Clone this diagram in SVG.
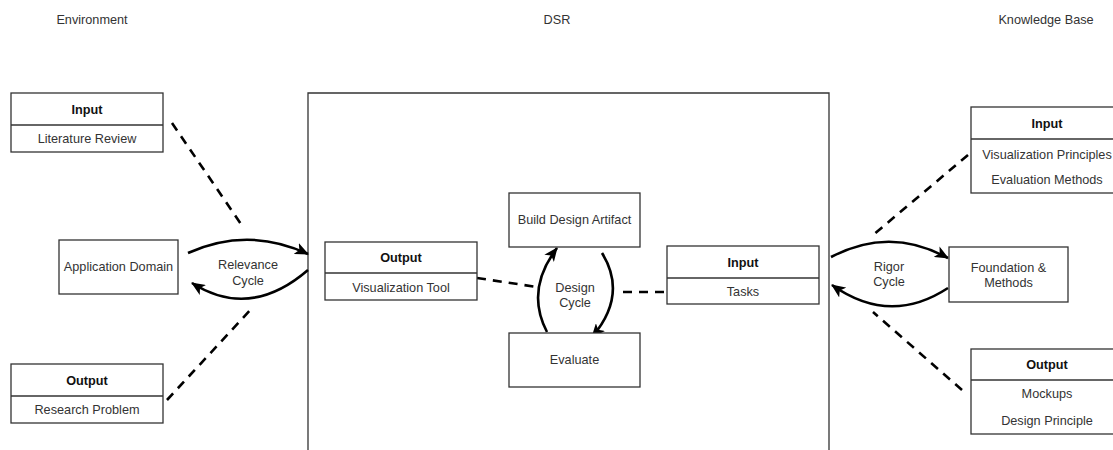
<svg xmlns="http://www.w3.org/2000/svg" width="1113" height="450" viewBox="0 0 1113 450">
  <style>
    .box { fill: #ffffff; stroke: #333333; stroke-width: 1.3; }
    .sep { stroke: #333333; stroke-width: 1.3; }
    .t { font-family: "Liberation Sans", Arial, sans-serif; font-size: 12.7px; fill: #333333; text-anchor: middle; dominant-baseline: central; }
    .h { font-weight: bold; fill: #111111; }
    .dash { fill: none; stroke: #000000; stroke-width: 2.6; stroke-dasharray: 9 7; }
    .cycle { fill: none; stroke: #000000; stroke-width: 2.6; marker-end: url(#head); }
  </style>
  <defs>
    <marker id="head" viewBox="0 0 14 12" refX="13" refY="6" markerWidth="14" markerHeight="12" markerUnits="userSpaceOnUse" orient="auto">
      <path d="M0,0 L14,6 L0,12 L3.5,6 Z" fill="#000000"/>
    </marker>
  </defs>
  <rect width="1113" height="450" fill="#ffffff"/>

  <!-- column titles -->
  <g id="titles">
    <text class="t" x="92" y="20">Environment</text>
    <text class="t" x="557" y="20">DSR</text>
    <text class="t" x="1046" y="20">Knowledge Base</text>
  </g>

  <!-- DSR frame (runs past the bottom edge) -->
  <g id="dsr-frame">
    <path class="box" d="M308,460 V93 H829 V460" fill="none"/>
  </g>

  <!-- connectors -->
  <g id="connectors">
    <path class="dash" d="M172,123 L243,227"/>
    <path class="dash" d="M167,400 L253,307"/>
    <path class="cycle" d="M188,253 Q248,226 308,254"/>
    <path class="cycle" d="M308,270 Q250,320 192,283"/>
    <path class="dash" d="M477,278 L537,287"/>
    <path class="dash" d="M623,292 L667,292"/>
    <path class="cycle" d="M547,332 Q525,290 557,248"/>
    <path class="cycle" d="M602,253 Q628,295 592,337"/>
    <path class="cycle" d="M831,257 Q890,226 948,258"/>
    <path class="cycle" d="M948,288 Q890,326 832,285"/>
    <path class="dash" d="M968,155 L873,235"/>
    <path class="dash" d="M962,390 L873,312"/>
  </g>

  <!-- cycle labels -->
  <g id="cycle-labels">
    <text class="t" x="248" y="265">Relevance</text>
    <text class="t" x="248" y="281">Cycle</text>
    <text class="t" x="575" y="288">Design</text>
    <text class="t" x="575" y="303">Cycle</text>
    <text class="t" x="889" y="267">Rigor</text>
    <text class="t" x="889" y="282">Cycle</text>
  </g>

  <!-- environment -->
  <g id="env-input">
    <rect class="box" x="11" y="93" width="152" height="59"/>
    <line class="sep" x1="11" y1="125" x2="163" y2="125"/>
    <text class="t h" x="87" y="110">Input</text>
    <text class="t" x="87" y="139">Literature Review</text>
  </g>
  <g id="application-domain">
    <rect class="box" x="59" y="240" width="119" height="54"/>
    <text class="t" x="118.5" y="267">Application Domain</text>
  </g>
  <g id="env-output">
    <rect class="box" x="11" y="364" width="152" height="59"/>
    <line class="sep" x1="11" y1="396" x2="163" y2="396"/>
    <text class="t h" x="87" y="381">Output</text>
    <text class="t" x="87" y="410">Research Problem</text>
  </g>

  <!-- DSR -->
  <g id="dsr-output">
    <rect class="box" x="325" y="242" width="152" height="58"/>
    <line class="sep" x1="325" y1="273" x2="477" y2="273"/>
    <text class="t h" x="401" y="258">Output</text>
    <text class="t" x="401" y="288">Visualization Tool</text>
  </g>
  <g id="build-artifact">
    <rect class="box" x="509" y="193" width="131" height="54"/>
    <text class="t" x="574.5" y="220">Build Design Artifact</text>
  </g>
  <g id="evaluate">
    <rect class="box" x="509" y="333" width="131" height="54"/>
    <text class="t" x="574.5" y="360">Evaluate</text>
  </g>
  <g id="dsr-input">
    <rect class="box" x="667" y="246" width="152" height="58"/>
    <line class="sep" x1="667" y1="278" x2="819" y2="278"/>
    <text class="t h" x="743" y="263">Input</text>
    <text class="t" x="743" y="292">Tasks</text>
  </g>

  <!-- knowledge base -->
  <g id="kb-input">
    <rect class="box" x="971" y="107" width="152" height="86"/>
    <line class="sep" x1="971" y1="139" x2="1123" y2="139"/>
    <text class="t h" x="1047" y="124">Input</text>
    <text class="t" x="1047" y="155">Visualization Principles</text>
    <text class="t" x="1047" y="180">Evaluation Methods</text>
  </g>
  <g id="foundations">
    <rect class="box" x="949" y="247" width="119" height="55"/>
    <text class="t" x="1008.5" y="268">Foundation &amp;</text>
    <text class="t" x="1008.5" y="283">Methods</text>
  </g>
  <g id="kb-output">
    <rect class="box" x="971" y="349" width="152" height="85"/>
    <line class="sep" x1="971" y1="380" x2="1123" y2="380"/>
    <text class="t h" x="1047" y="365">Output</text>
    <text class="t" x="1047" y="394">Mockups</text>
    <text class="t" x="1047" y="421">Design Principle</text>
  </g>
</svg>
